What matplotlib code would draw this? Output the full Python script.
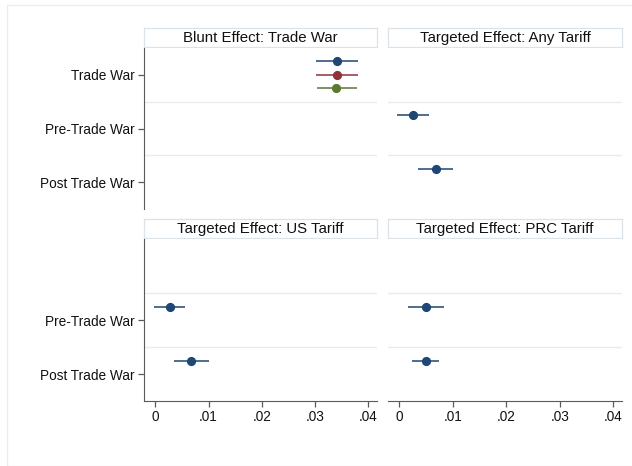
import matplotlib.pyplot as plt
from matplotlib.patches import Rectangle
import numpy as np

plt.rcParams['font.family'] = ['Liberation Sans', 'DejaVu Sans']

categories = ['Trade War', 'Pre-Trade War', 'Post Trade War']
x_ticks = [0, 0.01, 0.02, 0.03, 0.04]
x_ticklabels = ['0', '.01', '.02', '.03', '.04']

# blunt effect: three specifications, all on the Trade War row
blunt_est = [0.0341, 0.0341, 0.0340]
blunt_lo = [0.0302, 0.0301, 0.0303]
blunt_hi = [0.0381, 0.0381, 0.0379]

# targeted effects: Pre-Trade War, Post Trade War
any_est = [0.0025, 0.0068]
any_lo = [-0.0004, 0.0035]
any_hi = [0.0056, 0.0101]

us_est = [0.0027, 0.0068]
us_lo = [-0.0003, 0.0036]
us_hi = [0.0056, 0.0101]

prc_est = [0.0050, 0.0050]
prc_lo = [0.0016, 0.0024]
prc_hi = [0.0083, 0.0074]

colors = ['#1f4674', '#8f3338', '#5a7a32']
offsets = [-0.25, 0.0, 0.25]

W, H = 632, 466
fig = plt.figure(figsize=(W / 100, H / 100), dpi=100)
fig.patch.set_facecolor('white')
fig.add_artist(Rectangle((7 / W, 0), 1, 1 - 5 / H, transform=fig.transFigure,
                         facecolor='none', edgecolor='#ececec', lw=1))


def px_axes(x0, y0, x1, y1):
    return fig.add_axes([x0 / W, 1 - y1 / H, (x1 - x0) / W, (y1 - y0) / H])


def title_box(x0, x1, y0, y1, text):
    tb = px_axes(x0, y0, x1, y1)
    tb.set_xticks([])
    tb.set_yticks([])
    for s in tb.spines.values():
        s.set_color('#dce3e8')
        s.set_linewidth(0.9)
    tb.text(0.5, 0.47, text, ha='center', va='center', fontsize=10.8,
            color='#111111', transform=tb.transAxes)


def panel(x0, x1, y0, y1, title, series, ylabels, left_axis, bottom_axis):
    title_box(x0, x1, y0 - 20, y0 - 1, title)
    ax = px_axes(x0, y0, x1, y1)
    for k, (rows, est, lo, hi) in enumerate(series):
        ypos = np.array(rows) + offsets[k]
        ax.hlines(ypos, lo, hi, color=colors[k], lw=1.3, alpha=0.85, zorder=3)
        ax.plot(est, ypos, 'o', color=colors[k], ms=5.6, zorder=4)
    for yb in (1.5, 2.5):
        ax.axhline(yb, color='#e6ecf0', lw=1.0, zorder=1)
    ax.set_ylim(3.5, 0.5)
    ax.set_xlim(-0.0021, 0.0416)
    for s in ax.spines.values():
        s.set_visible(False)
    if left_axis:
        ax.spines['left'].set_visible(True)
        ax.spines['left'].set_color('#5a5a5a')
        ticks = [i + 1 for i, c in enumerate(categories) if c in ylabels]
        ax.set_yticks(ticks)
        ax.set_yticklabels([categories[t - 1] for t in ticks])
    else:
        ax.set_yticks([])
    if bottom_axis:
        ax.spines['bottom'].set_visible(True)
        ax.spines['bottom'].set_color('#5a5a5a')
        ax.set_xticks(x_ticks)
        ax.set_xticklabels(x_ticklabels)
    else:
        ax.set_xticks([])
    ax.tick_params(axis='both', length=4, width=0.9, color='#5a5a5a',
                   labelsize=9.8, labelcolor='#111111', pad=2.5)
    return ax


panel(144, 377, 48, 209, 'Blunt Effect: Trade War',
      [([1], [blunt_est[i]], [blunt_lo[i]], [blunt_hi[i]]) for i in range(3)],
      categories, True, False)
panel(388, 622, 48, 209, 'Targeted Effect: Any Tariff',
      [([2, 3], any_est, any_lo, any_hi)], [], False, False)
panel(144, 377, 239, 401, 'Targeted Effect: US Tariff',
      [([2, 3], us_est, us_lo, us_hi)], categories[1:], True, True)
panel(388, 622, 239, 401, 'Targeted Effect: PRC Tariff',
      [([2, 3], prc_est, prc_lo, prc_hi)], [], False, True)

fig.savefig('out.png', dpi=100)
